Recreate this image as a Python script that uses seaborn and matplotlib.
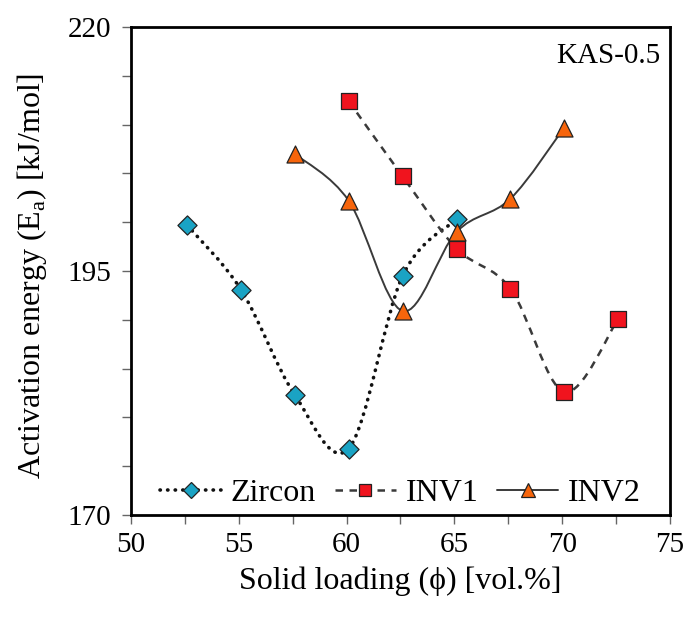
import numpy as np
import matplotlib
matplotlib.use("Agg")
import matplotlib.pyplot as plt
from matplotlib.path import Path
from matplotlib.patches import PathPatch
from matplotlib.lines import Line2D
import seaborn as sns
import pandas as pd

# ---- data ----
zircon_x = [52.6, 55.1, 57.6, 60.1, 62.6, 65.1]
zircon_y = [199.7, 193.1, 182.3, 176.8, 194.5, 200.3]

inv1_x = [60.1, 62.6, 65.1, 67.6, 70.1, 72.6]
inv1_y = [212.4, 204.7, 197.3, 193.2, 182.6, 190.1]

inv2_x = [57.6, 60.1, 62.6, 65.1, 67.6, 70.1]
inv2_y = [207.0, 202.2, 190.9, 199.0, 202.4, 209.7]

series_names = ["Zircon", "INV1", "INV2"]
x_tick_labels = ["50", "55", "60", "65", "70", "75"]
y_tick_labels = ["170", "195", "220"]

sns.set_theme(style="white")
plt.rcParams['font.family'] = ['Liberation Serif', 'DejaVu Serif']
plt.rcParams['mathtext.fontset'] = 'custom'
plt.rcParams['mathtext.rm'] = 'Liberation Serif'
plt.rcParams['text.color'] = 'black'
plt.rcParams['axes.labelcolor'] = 'black'
plt.rcParams['xtick.labelcolor'] = 'black'
plt.rcParams['ytick.labelcolor'] = 'black'

fig = plt.figure(figsize=(6.85, 6.21), dpi=100)
ax = fig.add_axes([0.1912, 0.1707, 0.978 - 0.1912, 0.9565 - 0.1707])


def smooth_path(xs, ys):
    """Excel-like smoothed line (Catmull-Rom Bezier) through the data points."""
    P = np.column_stack([xs, ys]).astype(float)
    n = len(P)
    verts = [P[0]]
    codes = [Path.MOVETO]
    for i in range(n - 1):
        p0 = P[i - 1] if i > 0 else P[i]
        p1 = P[i]
        p2 = P[i + 1]
        p3 = P[i + 2] if i + 2 < n else P[i + 1]
        c1 = p1 + (p2 - p0) / 6.0
        c2 = p2 - (p3 - p1) / 6.0
        verts += [c1, c2, p2]
        codes += [Path.CURVE4] * 3
    return Path(verts, codes)


styles = {
    "Zircon": dict(ls=(0, (0.1, 2.0)), lw=2.6, color="#111111", cap="round"),
    "INV1": dict(ls=(0, (3.0, 2.6)), lw=1.8, color="#3a3a3a", cap="butt"),
    "INV2": dict(ls="-", lw=1.4, color="#3a3a3a", cap="butt"),
}
markers = {
    "Zircon": dict(marker="D", color="#1aa3c4", s=95),
    "INV1": dict(marker="s", color="#f0141e", s=120),
    "INV2": dict(marker="^", color="#f7650c", s=150),
}
data = {
    "Zircon": (zircon_x, zircon_y),
    "INV1": (inv1_x, inv1_y),
    "INV2": (inv2_x, inv2_y),
}

for name in series_names:
    xs, ys = data[name]
    st = styles[name]
    patch = PathPatch(smooth_path(xs, ys), facecolor="none", edgecolor=st["color"],
                      lw=st["lw"], linestyle=st["ls"], capstyle=st["cap"], zorder=2)
    ax.add_patch(patch)

for name in series_names:
    xs, ys = data[name]
    mk = markers[name]
    df = pd.DataFrame({"x": xs, "y": ys})
    sns.scatterplot(data=df, x="x", y="y", ax=ax, marker=mk["marker"], color=mk["color"],
                    s=mk["s"], edgecolor="#222222", linewidth=0.9, zorder=3, legend=False)

ax.set_xlim(50, 75)
ax.set_ylim(170, 220)
xt = np.arange(50, 75.01, 2.5)
ax.set_xticks(xt)
ax.set_xticklabels([x_tick_labels[i // 2] if i % 2 == 0 else "" for i in range(len(xt))])
yt = np.arange(170, 220.01, 5)
ax.set_yticks(yt)
ax.set_yticklabels([y_tick_labels[i // 5] if i % 5 == 0 else "" for i in range(len(yt))])
ax.tick_params(axis="both", direction="out", length=6.5, width=1.0, color="#666666",
               labelsize=21, labelcolor="black", bottom=True, left=True)
ax.tick_params(axis="x", pad=6)
ax.tick_params(axis="y", pad=8)

for sp in ax.spines.values():
    sp.set_color("black")
    sp.set_linewidth(2.0)
    sp.set_visible(True)

ax.set_xlabel("Solid loading (ϕ) [vol.%]", fontsize=23, color="black")
ax.set_ylabel("Activation energy (E$_{\\mathrm{a}}$) [kJ/mol]", fontsize=23, color="black")
ax.xaxis.set_label_coords(0.5, -0.105)
ax.yaxis.set_label_coords(-0.152, 0.49)

ax.text(0.982, 0.968, "KAS-0.5", transform=ax.transAxes, ha="right", va="top",
        fontsize=21, color="black")

handles = []
for name in series_names:
    st = styles[name]
    mk = markers[name]
    h = Line2D([], [], color=st["color"], lw=st["lw"], linestyle=st["ls"],
               dash_capstyle=st["cap"], marker=mk["marker"], markerfacecolor=mk["color"],
               markeredgecolor="#222222", markeredgewidth=0.9,
               markersize=np.sqrt(mk["s"]) * 0.85)
    handles.append(h)
leg = ax.legend(handles, series_names, loc="lower center", ncol=3, frameon=False,
                fontsize=23, handlelength=1.9, columnspacing=0.6, handletextpad=0.3,
                bbox_to_anchor=(0.5, -0.025), borderaxespad=0.2)
for t in leg.get_texts():
    t.set_color("black")

ax.set_facecolor("white")
fig.savefig("out.png", dpi=100, facecolor="white")
